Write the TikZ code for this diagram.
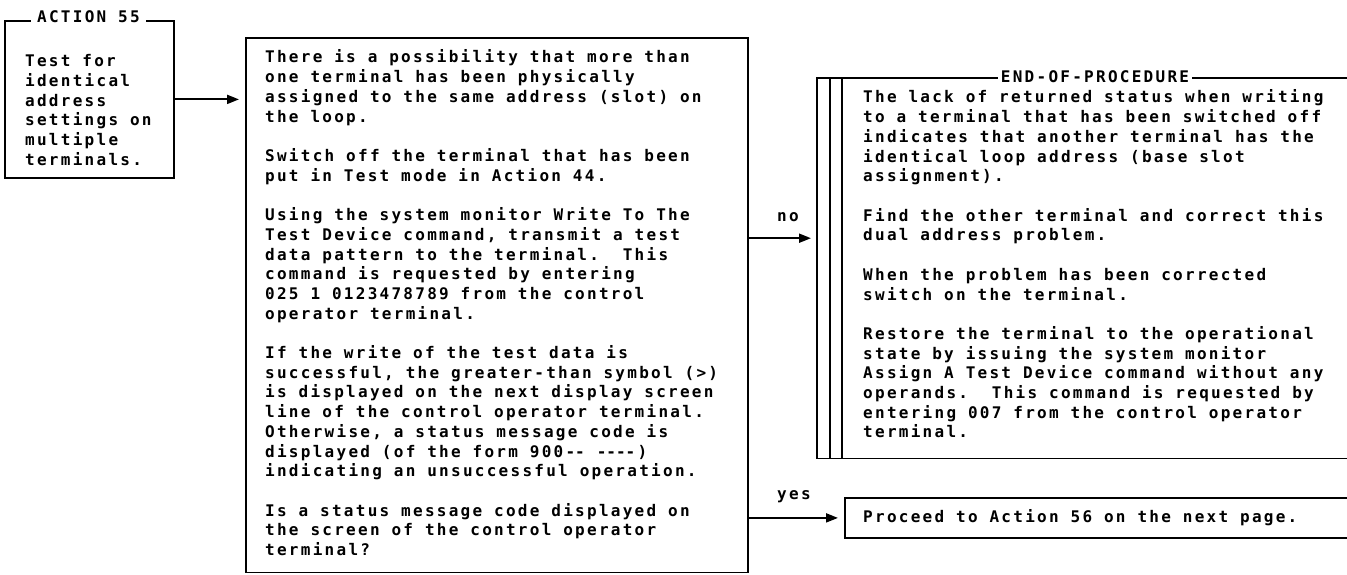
\documentclass[tikz,border=0pt]{standalone}
\usepackage{fontspec}
\usetikzlibrary{arrows.meta}
\newfontfamily\twfam{DejaVu Sans Mono}[LetterSpace=14.2,UprightFont=*-Bold]
\newcommand\twfont{\twfam\fontsize{16pt}{19.7pt}\selectfont\spaceskip=11.9pt\relax}
\tikzset{
  box/.style={draw, line width=1.8pt, inner sep=0pt, anchor=north west},
  txt/.style={inner sep=0pt, anchor=base west, font=\twfont},
  arr/.style={line width=1.8pt, -{Triangle[length=12pt,width=9pt]}, shorten >=6pt},
  rulestyle/.style={line width=1.8pt},
  lbl/.style={txt, anchor=base, fill=white, inner ysep=3pt},
}
\newcommand\putlines[4]{%
  \foreach \t [count=\i from 0] in {#4} {
    \node[txt, name=#1-\i] at (#2, #3+19.7*\i) {\t};
  }%
}
\begin{document}
\begin{tikzpicture}[x=1pt,y=-1pt]
\useasboundingbox (0,0) rectangle (1347,575);
% boxes
\node[box, minimum width=169pt, minimum height=157pt] (act) at (4,20) {};
\node[box, minimum width=502pt, minimum height=534pt] (mid) at (245,37.5) {};
\node[inner sep=0pt, anchor=north west, minimum width=545pt, minimum height=380pt] (eop) at (817,78) {};
\node[box, minimum width=520pt, minimum height=40pt] (proc) at (844,497) {};
% end-of-procedure frame
\draw[rulestyle] (eop.north east) -- (eop.north west) -- (eop.south west) -- (eop.south east);
\draw[rulestyle] ([xshift=13pt]eop.north west) -- ([xshift=13pt]eop.south west);
\draw[rulestyle] ([xshift=25pt]eop.north west) -- ([xshift=25pt]eop.south west);
% labels on frames
\node[lbl, inner xsep=6pt] (actlbl) at (88.5,23) {ACTION 55};
\node[lbl, inner xsep=3pt] (eoplbl) at (1095,83) {END-OF-PROCEDURE};
% texts
\putlines{a}{25}{66.7}{Test for,identical,address,{settings on},multiple,terminals.}
\putlines{m}{265}{63}{
  {There is a possibility that more than},
  {one terminal has been physically},
  {assigned to the same address (slot) on},
  {the loop.},
  {},
  {Switch off the terminal that has been},
  {put in Test mode in Action 44.},
  {},
  {Using the system monitor Write To The},
  {Test Device command, transmit a test},
  {data pattern to the terminal.\ \ This},
  {command is requested by entering},
  {025 1 0123478789 from the control},
  {operator terminal.},
  {},
  {If the write of the test data is},
  {successful, the greater-than symbol (>)},
  {is displayed on the next display screen},
  {line of the control operator terminal.},
  {Otherwise, a status message code is},
  {displayed (of the form 900-\kern0pt- -\kern0pt-\kern0pt-\kern0pt-)},
  {indicating an unsuccessful operation.},
  {},
  {Is a status message code displayed on},
  {the screen of the control operator},
  {terminal?}}
\putlines{e}{863}{103}{
  {The lack of returned status when writing},
  {to a terminal that has been switched off},
  {indicates that another terminal has the},
  {identical loop address (base slot},
  {assignment).},
  {},
  {Find the other terminal and correct this},
  {dual address problem.},
  {},
  {When the problem has been corrected},
  {switch on the terminal.},
  {},
  {Restore the terminal to the operational},
  {state by issuing the system monitor},
  {Assign A Test Device command without any},
  {operands.\ \ This command is requested by},
  {entering 007 from the control operator},
  {terminal.}}
\node[txt] (proctxt) at (863,522) {Proceed to Action 56 on the next page.};
% connectors
\draw[arr] (act.east) -- (act.east -| mid.west);
\coordinate (noin) at ([yshift=30pt]eop.west);
\draw[arr] (mid.east |- noin) -- (noin);
\draw[arr] (mid.east |- proc.west) -- (proc.west);
\node[txt] (nolbl) at (777,221) {no};
\node[txt] (yeslbl) at (777,499) {yes};
\end{tikzpicture}
\end{document}
